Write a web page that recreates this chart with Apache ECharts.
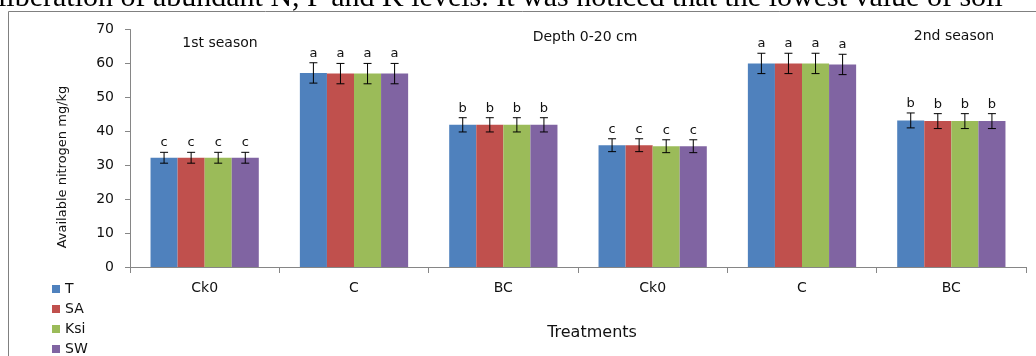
<!DOCTYPE html>
<html>
<head>
<meta charset="utf-8">
<script src="https://cdn.jsdelivr.net/npm/echarts@6/dist/echarts.min.js"></script>
<style>
html,body{margin:0;padding:0;background:#fff;}
#chart{width:1036px;height:356px;}
</style>
</head>
<body>
<div id="chart"></div>
<script>
// ---- data ----
const categories = ["Ck0", "C", "BC", "Ck0", "C", "BC"];
const seriesNames = ["T", "SA", "Ksi", "SW"];
const valuesT   = [32.2, 57.2, 41.9, 35.9, 60.0, 43.2];
const valuesSA  = [32.2, 57.0, 41.9, 35.9, 60.0, 43.0];
const valuesKsi = [32.2, 57.0, 41.9, 35.6, 60.0, 43.0];
const valuesSW  = [32.2, 57.0, 41.9, 35.6, 59.7, 43.0];
const errors    = [1.6, 3.0, 2.1, 1.9, 3.0, 2.2];
const letters   = ["c", "a", "b", "c", "a", "b"];
const yTicks    = [0, 10, 20, 30, 40, 50, 60, 70];
const seriesValues = [valuesT, valuesSA, valuesKsi, valuesSW];
const colors = ["#4F81BD", "#C0504D", "#9BBB59", "#8064A2"];

const GAP = 0.275;
const FONT = "DejaVu Sans";

const chart = echarts.init(document.getElementById('chart'), null, {renderer: 'canvas'});

function errSeries(si) {
  const vals = seriesValues[si];
  return {
    type: 'custom',
    name: 'err' + si,
    silent: true,
    z: 10,
    renderItem: function (params, api) {
      const ci = api.value(0), v = api.value(1), e = api.value(2);
      const band = api.size([1, 0])[0];
      const group = band * (1 - GAP);
      const bw = group / 4;
      const cx = api.coord([ci, 0])[0] - group / 2 + bw * (si + 0.5);
      const top = api.coord([ci, v + e])[1];
      const bot = api.coord([ci, v - e])[1];
      const cap = 4;
      const st = {stroke: '#000', lineWidth: 1};
      return {
        type: 'group',
        children: [
          {type: 'line', shape: {x1: cx, y1: top, x2: cx, y2: bot}, style: st},
          {type: 'line', shape: {x1: cx - cap, y1: top, x2: cx + cap, y2: top}, style: st},
          {type: 'line', shape: {x1: cx - cap, y1: bot, x2: cx + cap, y2: bot}, style: st},
          {type: 'text', style: {text: letters[ci], x: cx, y: top - 3, align: 'center',
            verticalAlign: 'bottom', fill: '#111', font: '13px "' + FONT + '"'}}
        ]
      };
    },
    data: vals.map((v, i) => [i, v, errors[i]])
  };
}

const series = [];
seriesNames.forEach((n, i) => {
  series.push({
    type: 'bar',
    name: n,
    data: seriesValues[i],
    barGap: '0%',
    barCategoryGap: (GAP * 100) + '%',
    itemStyle: {color: colors[i]}
  });
});
seriesNames.forEach((n, i) => series.push(errSeries(i)));

chart.setOption({
  animation: false,
  textStyle: {fontFamily: FONT},
  color: colors,
  grid: {left: 130, right: 10, top: 29.5, bottom: 89, containLabel: false},
  legend: {
    data: seriesNames,
    orient: 'vertical',
    left: 47, top: 277, height: 120,
    itemWidth: 8, itemHeight: 8, itemGap: 6,
    icon: 'rect',
    textStyle: {fontSize: 14, color: '#111', fontFamily: FONT}
  },
  xAxis: {
    type: 'category',
    data: categories,
    axisLine: {lineStyle: {color: '#868686'}},
    axisTick: {show: true, length: 6, lineStyle: {color: '#868686'}},
    axisLabel: {fontSize: 14, color: '#111', margin: 14, fontFamily: FONT, interval: 0}
  },
  yAxis: {
    type: 'value',
    min: yTicks[0], max: yTicks[yTicks.length - 1], interval: 10,
    splitLine: {show: false},
    axisLine: {show: true, lineStyle: {color: '#868686'}},
    axisTick: {show: true, length: 5, lineStyle: {color: '#868686'}},
    axisLabel: {fontSize: 14, color: '#111', margin: 16, fontFamily: FONT}
  },
  graphic: [
    {type: 'rect', shape: {x: 8.5, y: 11.5, width: 1100, height: 400}, style: {fill: 'none', stroke: '#808080', lineWidth: 1}, z: 0, silent: true},
    {type: 'text', left: -2, top: -17, style: {text: 'liberation of abundant N, P and K levels. It was noticed that the lowest value of soil', font: '30px "Liberation Serif"', fill: '#000'}, silent: true},
    {type: 'text', x: 63, y: 167, rotation: Math.PI / 2, style: {text: 'Available nitrogen mg/kg', font: '13px "' + FONT + '"', fill: '#111', align: 'center', verticalAlign: 'middle'}},
    {type: 'text', x: 592, y: 333, style: {text: 'Treatments', font: '16px "' + FONT + '"', fill: '#111', align: 'center', verticalAlign: 'middle'}},
    {type: 'text', x: 220, y: 43, style: {text: '1st season', font: '14px "' + FONT + '"', fill: '#111', align: 'center', verticalAlign: 'middle'}},
    {type: 'text', x: 585, y: 37, style: {text: 'Depth 0-20 cm', font: '14px "' + FONT + '"', fill: '#111', align: 'center', verticalAlign: 'middle'}},
    {type: 'text', x: 954, y: 36, style: {text: '2nd season', font: '14px "' + FONT + '"', fill: '#111', align: 'center', verticalAlign: 'middle'}}
  ],
  series: series
});
</script>
</body>
</html>
